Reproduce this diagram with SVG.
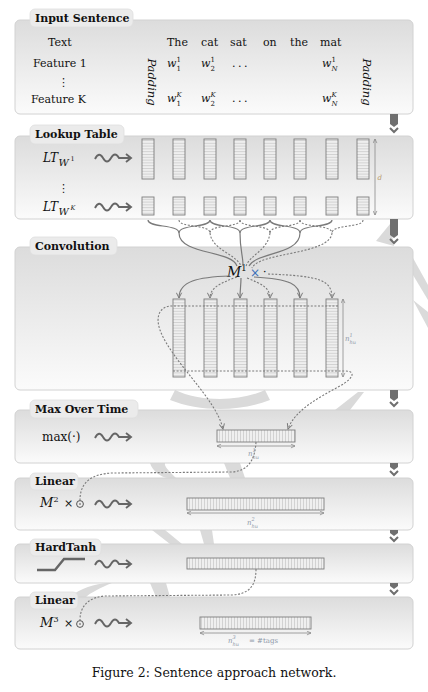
<svg xmlns="http://www.w3.org/2000/svg" width="428" height="692" viewBox="0 0 428 692">
<defs>
<linearGradient id="pg" x1="0" y1="0" x2="0" y2="1"><stop offset="0" stop-color="#dcdcdc"/><stop offset="1" stop-color="#fbfbfb"/></linearGradient>
<pattern id="hl" width="20" height="2.8" patternUnits="userSpaceOnUse"><rect width="20" height="2.8" fill="#efefef"/><line x1="0" y1="0.5" x2="20" y2="0.5" stroke="#bdbdbd" stroke-width="0.6"/></pattern>
<pattern id="vl" width="3" height="20" patternUnits="userSpaceOnUse"><rect width="3" height="20" fill="#efefef"/><line x1="0.5" y1="0" x2="0.5" y2="20" stroke="#bdbdbd" stroke-width="0.6"/></pattern>
<marker id="ah" viewBox="0 0 8 8" refX="7" refY="4" markerWidth="7" markerHeight="7" markerUnits="userSpaceOnUse" orient="auto"><path d="M1,1 L7,4 L1,7" fill="none" stroke="#777" stroke-width="1.1"/></marker>
<marker id="ad" viewBox="0 0 8 8" refX="7.5" refY="4" markerWidth="5" markerHeight="5" markerUnits="userSpaceOnUse" orient="auto-start-reverse"><path d="M1,1 L7.5,4 L1,7" fill="none" stroke="#888" stroke-width="1.2"/></marker>
<path id="sq" d="M0,1 Q4,-7 8,0 T16,0 T24,0 L36,0 M31,-4 L36,0 L31,4"/>
</defs>
<style>
.panel{fill:url(#pg);stroke:#d2d2d2;stroke-width:1}
.tab{fill:#ebebeb;stroke:#dedede;stroke-width:0.8}
.h{font-family:"DejaVu Serif","Liberation Serif",serif;font-weight:bold;font-size:11px;fill:#111}
.t{font-family:"DejaVu Serif","Liberation Serif",serif;font-size:11px;fill:#111}
.mi{font-family:"DejaVu Serif","Liberation Serif",serif;font-style:italic;font-size:11px;fill:#111}
.ix{font-family:"DejaVu Serif","Liberation Serif",serif;font-size:7px;fill:#111}
.ixi{font-family:"DejaVu Serif","Liberation Serif",serif;font-style:italic;font-size:7px;fill:#111}
.col{fill:url(#hl);stroke:#7d7d7d;stroke-width:0.9}
.bar{fill:url(#vl);stroke:#7d7d7d;stroke-width:0.9}
.sol{fill:none;stroke:#7a7a7a;stroke-width:1.2}
.dsh{fill:none;stroke:#7a7a7a;stroke-width:1.1;stroke-dasharray:2 1.6}
.dim{fill:none;stroke:#8a8a8a;stroke-width:0.8}
.lab{font-family:"DejaVu Serif","Liberation Serif",serif;font-style:italic;font-size:7px;fill:#8d97a8}
.lab2{font-family:"DejaVu Serif","Liberation Serif",serif;font-style:italic;font-size:5px;fill:#8d97a8}
.sq{fill:none;stroke:#666;stroke-width:1.9}
.bg{fill:#dadada}
.dn{fill:#6f6f6f}
.dc{fill:none;stroke:#6f6f6f;stroke-width:2}
</style>
<rect width="428" height="692" fill="#ffffff"/>

<g id="background-arrow">
<path class="bg" d="M376,241 L390,224 L394,246 Z"/>
<path class="bg" d="M413,258 L428,285 L428,300 L413,275 Z"/>
<path class="bg" d="M413,300 L428,312 L428,328 Z"/>
<path class="bg" d="M175,390 C200,402 240,402 265,390 L270,400 C240,412 200,412 170,400 Z"/>
<path class="bg" d="M335,410 L358,392 L364,392 L350,410 Z"/>
<path class="bg" d="M150,463 C152,470 160,478 170,478 L176,478 C168,470 164,466 165,463 Z"/>
<path class="bg" d="M224,463 L240,463 L245,478 L230,478 Z"/>
<path class="bg" d="M152,530 L165,530 L182,544 L170,544 Z"/>
<path class="bg" d="M200,530 L212,530 L214,544 L204,544 Z"/>
<path class="bg" d="M70,597 C80,588 95,584 108,583 L112,583 C100,588 90,593 86,597 Z"/>
<path class="bg" d="M150,583 L166,583 L170,597 L156,597 Z"/>
</g>

<g id="connectors-under">
<path class="sol" d="M148,220 C148,228 179,224 179,233"/>
<path class="sol" d="M210,220 C210,228 179,224 179,233"/>
<path class="sol" d="M210,220 C210,228 240,224 240,233"/>
<path class="sol" d="M270,220 C270,228 240,224 240,233"/>
<path class="sol" d="M270,220 C270,228 300,224 300,233"/>
<path class="sol" d="M332,220 C332,228 300,224 300,233"/>
<path class="dsh" d="M179,220 C179,228 210,224 210,233"/>
<path class="dsh" d="M240,220 C240,228 210,224 210,233"/>
<path class="dsh" d="M240,220 C240,228 270,224 270,233"/>
<path class="dsh" d="M300,220 C300,228 270,224 270,233"/>
<path class="dsh" d="M300,220 C300,228 332,224 332,233"/>
<path class="dsh" d="M363,220 C363,228 332,224 332,233"/>
</g>

<g id="input-sentence">
<rect class="panel" x="15" y="20" width="398" height="94" rx="5"/>
<rect class="tab" x="30" y="9" width="103" height="18" rx="5"/>
<text class="h" x="35" y="22">Input Sentence</text>
<text class="t" x="48" y="46">Text</text>
<text class="t" x="33" y="67">Feature 1</text>
<text class="t" x="58" y="86" style="font-family:'DejaVu Sans',sans-serif">⋮</text>
<text class="t" x="31" y="103">Feature K</text>
<text class="mi" transform="translate(148,82) rotate(90)" text-anchor="middle" style="font-size:11.5px">Padding</text>
<text class="mi" transform="translate(363,82) rotate(90)" text-anchor="middle" style="font-size:11.5px">Padding</text>
<text class="t" x="167" y="46">The</text>
<text class="t" x="201" y="46">cat</text>
<text class="t" x="230" y="46">sat</text>
<text class="t" x="263" y="46">on</text>
<text class="t" x="290" y="46">the</text>
<text class="t" x="320" y="46">mat</text>
<text class="mi" x="167" y="67">w</text><text class="ix" x="176.5" y="62">1</text><text class="ix" x="176.5" y="70.5">1</text>
<text class="mi" x="201" y="67">w</text><text class="ix" x="210.5" y="62">1</text><text class="ix" x="210.5" y="70.5">2</text>
<text class="t" x="232" y="67" style="letter-spacing:2.5px">...</text>
<text class="mi" x="322" y="67">w</text><text class="ix" x="331.5" y="62">1</text><text class="ixi" x="331.5" y="70.5">N</text>
<text class="mi" x="167" y="102">w</text><text class="ixi" x="176.5" y="97">K</text><text class="ix" x="176.5" y="105.5">1</text>
<text class="mi" x="201" y="102">w</text><text class="ixi" x="210.5" y="97">K</text><text class="ix" x="210.5" y="105.5">2</text>
<text class="t" x="232" y="102" style="letter-spacing:2.5px">...</text>
<text class="mi" x="322" y="102">w</text><text class="ixi" x="331.5" y="97">K</text><text class="ixi" x="331.5" y="105.5">N</text>
</g>

<g id="lookup-table">
<rect class="panel" x="15" y="136" width="398" height="83" rx="5"/>
<rect class="tab" x="30" y="125" width="94" height="19" rx="5"/>
<text class="h" x="35" y="138">Lookup Table</text>
<text class="mi" x="43" y="162" style="font-size:12px">LT</text><text class="ixi" x="58.5" y="165.5" style="font-size:10px">W</text><text class="ix" x="70.5" y="161" style="font-size:6.5px">1</text>
<text class="t" x="58" y="192" style="font-family:'DejaVu Sans',sans-serif">⋮</text>
<text class="mi" x="43" y="211" style="font-size:12px">LT</text><text class="ixi" x="58.5" y="214.5" style="font-size:10px">W</text><text class="ixi" x="70.5" y="210" style="font-size:6.5px">K</text>
<use href="#sq" class="sq" x="95" y="158"/>
<use href="#sq" class="sq" x="95" y="207"/>
<rect class="col" x="142" y="139" width="12" height="40"/>
<rect class="col" x="173" y="139" width="12" height="40"/>
<rect class="col" x="204" y="139" width="12" height="40"/>
<rect class="col" x="234" y="139" width="12" height="40"/>
<rect class="col" x="264" y="139" width="12" height="40"/>
<rect class="col" x="294" y="139" width="12" height="40"/>
<rect class="col" x="326" y="139" width="12" height="40"/>
<rect class="col" x="357" y="139" width="12" height="40"/>
<rect class="col" x="142" y="197" width="12" height="18"/>
<rect class="col" x="173" y="197" width="12" height="18"/>
<rect class="col" x="204" y="197" width="12" height="18"/>
<rect class="col" x="234" y="197" width="12" height="18"/>
<rect class="col" x="264" y="197" width="12" height="18"/>
<rect class="col" x="294" y="197" width="12" height="18"/>
<rect class="col" x="326" y="197" width="12" height="18"/>
<rect class="col" x="357" y="197" width="12" height="18"/>
<line class="dim" x1="375" y1="139" x2="375" y2="215" marker-start="url(#ad)" marker-end="url(#ad)"/>
<text class="lab" x="377.5" y="180" style="fill:#b89a6a">d</text>
</g>

<g id="convolution">
<rect class="panel" x="15" y="247" width="398" height="143" rx="5"/>
<rect class="tab" x="30" y="237" width="87" height="18" rx="5"/>
<text class="h" x="35" y="250">Convolution</text>
<rect class="col" x="173" y="299" width="12" height="78"/>
<rect class="col" x="204" y="299" width="13" height="78"/>
<rect class="col" x="234" y="299" width="13" height="78"/>
<rect class="col" x="264" y="299" width="13" height="78"/>
<rect class="col" x="294" y="299" width="13" height="78"/>
<rect class="col" x="326" y="299" width="12" height="78"/>
<text class="mi" x="227" y="277" style="font-size:14px">M</text><text class="ix" x="241" y="271" style="font-size:9px">1</text>
<text class="t" x="250" y="277" style="fill:#3d6fb8;font-size:12px">×</text>
<text class="t" x="263" y="276">·</text>
<line class="dim" x1="343" y1="299" x2="343" y2="377" marker-start="url(#ad)" marker-end="url(#ad)"/>
<text class="lab" x="345" y="341">n</text><text class="lab2" x="349.5" y="337">1</text><text class="lab2" x="349.5" y="344">hu</text>
</g>

<g id="max-over-time">
<rect class="panel" x="15" y="410" width="398" height="53" rx="5"/>
<rect class="tab" x="30" y="400" width="108" height="18" rx="5"/>
<text class="h" x="35" y="413">Max Over Time</text>
<text class="t" x="42" y="441" style="font-size:12px">max(·)</text>
<use href="#sq" class="sq" x="95" y="437"/>
<rect class="bar" x="217" y="430" width="78" height="12"/>
<line class="dim" x1="217" y1="446" x2="295" y2="446" marker-start="url(#ad)" marker-end="url(#ad)"/>
<text class="lab" x="248" y="456">n</text><text class="lab2" x="252.5" y="452">1</text><text class="lab2" x="252.5" y="459">hu</text>
</g>

<g id="linear-1">
<rect class="panel" x="15" y="478" width="398" height="52" rx="5"/>
<rect class="tab" x="30" y="473" width="48" height="17" rx="5"/>
<text class="h" x="35" y="485">Linear</text>
<text class="mi" x="40" y="507" style="font-size:13px">M</text><text class="ix" x="53.5" y="502" style="font-size:8px">2</text>
<text class="t" x="64" y="507">×</text>
<circle cx="80" cy="504" r="3.4" fill="none" stroke="#444" stroke-width="0.9"/><circle cx="80" cy="504" r="0.8" fill="#444"/>
<use href="#sq" class="sq" x="95" y="504"/>
<rect class="bar" x="187" y="498" width="137" height="12"/>
<line class="dim" x1="187" y1="513" x2="324" y2="513" marker-start="url(#ad)" marker-end="url(#ad)"/>
<text class="lab" x="247" y="525">n</text><text class="lab2" x="251.5" y="521">2</text><text class="lab2" x="251.5" y="528">hu</text>
</g>

<g id="hardtanh">
<rect class="panel" x="15" y="544" width="398" height="39" rx="5"/>
<rect class="tab" x="30" y="539" width="71" height="17" rx="5"/>
<text class="h" x="35" y="551">HardTanh</text>
<path d="M37,570 L55,570 L64,559 L85,559" fill="none" stroke="#666" stroke-width="2.4"/>
<use href="#sq" class="sq" x="95" y="564"/>
<rect class="bar" x="187" y="558" width="137" height="11"/>
</g>

<g id="linear-2">
<rect class="panel" x="15" y="597" width="398" height="52" rx="5"/>
<rect class="tab" x="30" y="592" width="48" height="17" rx="5"/>
<text class="h" x="35" y="604">Linear</text>
<text class="mi" x="40" y="627" style="font-size:13px">M</text><text class="ix" x="53.5" y="622" style="font-size:8px">3</text>
<text class="t" x="64" y="627">×</text>
<circle cx="80" cy="624" r="3.4" fill="none" stroke="#444" stroke-width="0.9"/><circle cx="80" cy="624" r="0.8" fill="#444"/>
<use href="#sq" class="sq" x="95" y="623"/>
<rect class="bar" x="200" y="617" width="111" height="12"/>
<line class="dim" x1="200" y1="633" x2="311" y2="633" marker-start="url(#ad)" marker-end="url(#ad)"/>
<text class="lab" x="228" y="643">n</text><text class="lab2" x="232.5" y="639">3</text><text class="lab2" x="232.5" y="646">hu</text><text class="lab" x="249" y="643" style="font-style:normal">= #tags</text>
</g>

<g id="layer-arrows">
<path class="dn" d="M390,114 H398 V124 L394,127 L390,124 Z"/><path class="dc" d="M390,128 L394,132 L398,128"/>
<path class="dn" d="M390,219 H398 V235 L394,238 L390,235 Z"/><path class="dc" d="M390,239 L394,243 L398,239"/>
<path class="dn" d="M390,390 H398 V398 L394,401 L390,398 Z"/><path class="dc" d="M390,402 L394,406 L398,402"/>
<path class="dn" d="M390,463 H398 V467 L394,470 L390,467 Z"/><path class="dc" d="M390,471 L394,475 L398,471"/>
<path class="dn" d="M390,530 H398 V533 L394,536 L390,533 Z"/><path class="dc" d="M390,537 L394,541 L398,537"/>
<path class="dn" d="M390,583 H398 V586 L394,589 L390,586 Z"/><path class="dc" d="M390,590 L394,594 L398,590"/>
</g>

<g id="connectors">
<path class="sol" d="M179,233 C179,255 232,250 237,266"/>
<path class="dsh" d="M210,233 C212,250 236,254 241,266"/>
<path class="sol" d="M240,233 C240,250 243,256 243,265"/>
<path class="dsh" d="M270,233 C268,250 250,255 246,266"/>
<path class="sol" d="M300,233 C300,255 256,252 249,266"/>
<path class="dsh" d="M332,233 C330,255 259,252 252,268"/>
<path class="sol" d="M230,276 C198,277 179,281 179,298" marker-end="url(#ah)"/>
<path class="dsh" d="M237,277 C220,283 210,288 210,298" marker-end="url(#ah)"/>
<path class="sol" d="M241,278 C241,285 240,290 240,298" marker-end="url(#ah)"/>
<path class="dsh" d="M247,278 C262,284 270,288 270,298" marker-end="url(#ah)"/>
<path class="sol" d="M254,277 C290,279 300,284 300,298" marker-end="url(#ah)"/>
<path class="dsh" d="M268,274 C320,276 332,280 332,298" marker-end="url(#ah)"/>
<path class="dsh" d="M338,306 L172,306 C160,306 155,316 160,330 C172,362 216,398 223,429" marker-end="url(#ah)"/>
<path class="dsh" d="M173,371 L345,371 C356,371 354,378 340,386 C318,398 295,410 288,429" marker-end="url(#ah)"/>
<path class="dsh" d="M256,442 C255,458 250,470 233,472 L112,473 C92,474 80,482 80,500"/>
<path class="dsh" d="M256,569 C256,585 250,594 232,595 L105,596 C90,597 80,605 80,620"/>
</g>

<text x="214" y="677" text-anchor="middle" style="font-family:'DejaVu Serif','Liberation Serif',serif;font-size:12.5px;fill:#111">Figure 2:  Sentence approach network.</text>
</svg>
